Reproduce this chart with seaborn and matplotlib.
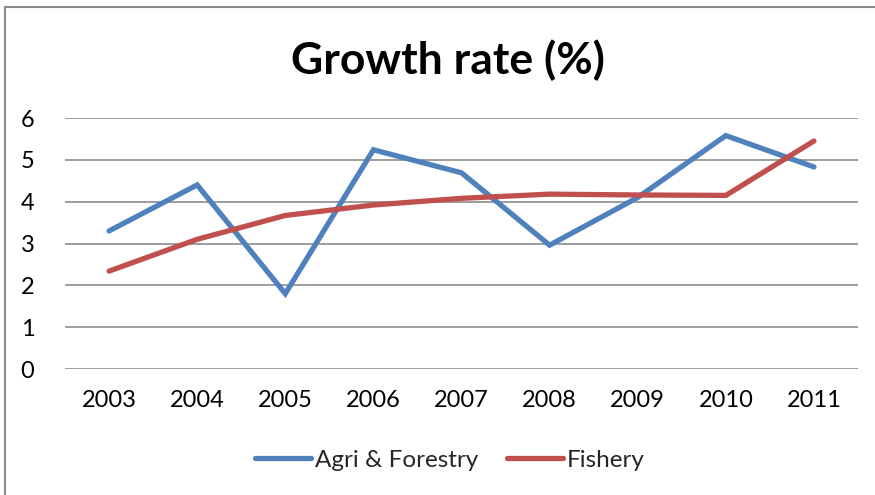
import matplotlib
matplotlib.use("Agg")
import matplotlib.pyplot as plt
from matplotlib.patches import Rectangle
import seaborn as sns
import pandas as pd

years = ["2003", "2004", "2005", "2006", "2007", "2008", "2009", "2010", "2011"]
agri_forestry = [3.3, 4.4, 1.8, 5.24, 4.69, 2.96, 4.1, 5.58, 4.83]
fishery = [2.34, 3.1, 3.67, 3.92, 4.08, 4.18, 4.16, 4.15, 5.45]
series_names = ["Agri & Forestry", "Fishery"]
y_ticks = [0, 1, 2, 3, 4, 5, 6]

df = pd.DataFrame({
    "year": years * 2,
    "rate": agri_forestry + fishery,
    "series": [series_names[0]] * len(years) + [series_names[1]] * len(years),
})
df["pos"] = list(range(len(years))) * 2

sns.set_theme(style="white")
plt.rcParams["font.family"] = ["Lato", "DejaVu Sans"]

fig = plt.figure(figsize=(8.75, 4.95), dpi=100)
ax = fig.add_axes([65 / 875, 1 - 369 / 495, (858 - 65) / 875, (369 - 118) / 495])

palette = {series_names[0]: "#4F81BD", series_names[1]: "#C0504D"}
line_w = 3.8
sns.lineplot(data=df, x="pos", y="rate", hue="series", palette=palette,
             linewidth=line_w, ax=ax, legend=False, solid_capstyle="round",
             solid_joinstyle="miter")

ax.set_xlim(-0.5, len(years) - 0.5)
ax.set_ylim(0, 6)
ax.set_yticks(y_ticks)
ax.set_xticks(range(len(years)))
ax.set_xticklabels(years)
ax.set_xlabel("")
ax.set_ylabel("")
for s in ax.spines.values():
    s.set_visible(False)
ax.yaxis.grid(True, color="#8C8C8C", linewidth=1.2)
ax.xaxis.grid(False)
ax.set_axisbelow(True)
ax.tick_params(axis="both", length=0, labelsize=17, colors="#000000")
ax.tick_params(axis="y", pad=22)
ax.tick_params(axis="x", pad=15)

fig.text(448 / 875, 1 - 60 / 495, "Growth rate (%)", ha="center", va="center",
         fontsize=32, fontweight="bold", color="#000000")

handles = [plt.Line2D([], [], color=palette[n], linewidth=line_w, solid_capstyle="round")
           for n in series_names]
fig.legend(handles, series_names, loc="center", bbox_to_anchor=(450 / 875, 1 - 460 / 495),
           ncol=2, frameon=False, fontsize=17.5, handlelength=2.3, handletextpad=0.15,
           columnspacing=1.2)

# chart frame
fig.patches.append(Rectangle((5 / 875, -0.05), 1.1, 1 - 7 / 495 + 0.05,
                             transform=fig.transFigure, fill=False,
                             edgecolor="#8A8A8A", linewidth=1.5))

fig.savefig("out.png", dpi=100)
